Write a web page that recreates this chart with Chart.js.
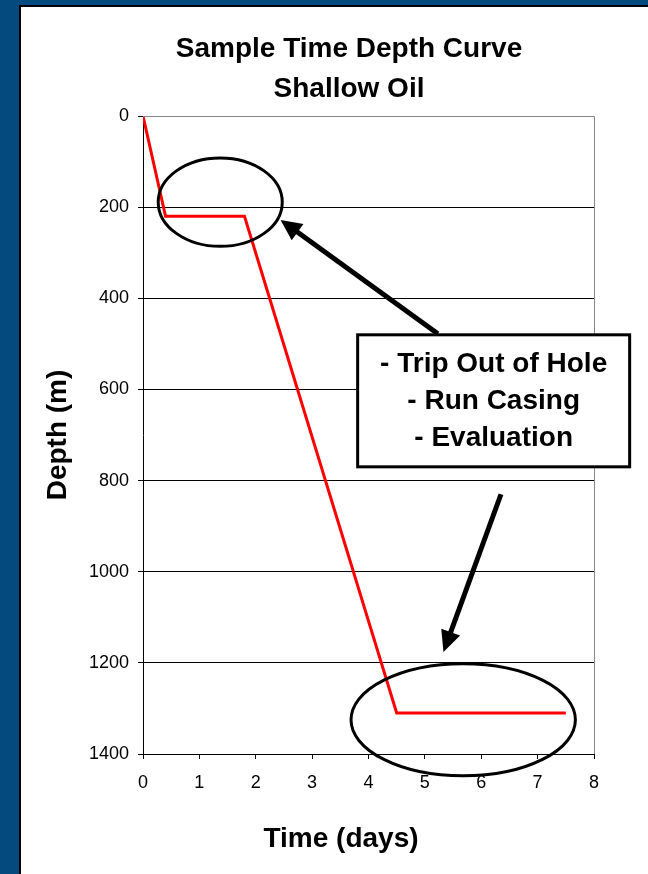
<!DOCTYPE html>
<html>
<head>
<meta charset="utf-8">
<script src="https://cdn.jsdelivr.net/npm/chart.js@4"></script>
<style>
  html, body { margin: 0; padding: 0; width: 648px; height: 874px; overflow: hidden; background: #054a7e; }
  #frame { position: absolute; left: 19px; top: 5px; right: 0; bottom: 0;
           border-left: 2px solid #000; border-top: 2px solid #000; background: #fff; }
  #chart { position: absolute; left: 0; top: 0; }
</style>
</head>
<body>
<div id="frame"></div>
<canvas id="chart" width="648" height="874"></canvas>
<script>
// Time-depth curve of a shallow oil well
const timeDays = [0, 0.4, 1.8, 4.5, 7.5];
const depthM   = [0, 220, 220, 1310, 1310];

const xTickValues = [0, 1, 2, 3, 4, 5, 6, 7, 8];
const yTickValues = [0, 200, 400, 600, 800, 1000, 1200, 1400];

const titleLines = ['Sample Time Depth Curve', 'Shallow Oil'];
const xAxisTitle = 'Time (days)';
const yAxisTitle = 'Depth (m)';
const noteLines  = ['- Trip Out of Hole', '- Run Casing', '- Evaluation'];

// Callout geometry, anchored in data units (days, metres)
const callout = {
  rings: [
    { x: 1.37, y: 189,  rx: 1.10, ry: 97 },
    { x: 5.68, y: 1325, rx: 1.99, ry: 123 }
  ],
  arrows: [
    { from: [5.23, 478], to: [2.44, 228] },
    { from: [6.35, 830], to: [5.33, 1176] }
  ],
  box: { x: 6.22, y: 625, w: 272, h: 132, lineGap: 37 }
};

// Heading and axis-title placement on the canvas
const headings = { titleX: 349, titleY: 49, titleGap: 40, xTitleX: 341, xTitleY: 839 };

const FONT = "'Liberation Sans', Arial, Helvetica, sans-serif";
const BOLD = 'bold 28px ' + FONT;

const calloutPlugin = {
  id: 'callouts',
  afterDraw(chart) {
    const { ctx, chartArea, scales: { x, y } } = chart;
    ctx.save();

    // plot frame: top and right edges in grey
    ctx.strokeStyle = '#868686';
    ctx.lineWidth = 1;
    ctx.beginPath();
    ctx.moveTo(chartArea.left, chartArea.top + 0.5);
    ctx.lineTo(chartArea.right + 0.5, chartArea.top + 0.5);
    ctx.lineTo(chartArea.right + 0.5, chartArea.bottom);
    ctx.stroke();

    // chart heading and x-axis title
    ctx.fillStyle = '#000';
    ctx.font = BOLD;
    ctx.textAlign = 'center';
    ctx.textBaseline = 'middle';
    titleLines.forEach((t, i) => ctx.fillText(t, headings.titleX, headings.titleY + i * headings.titleGap));
    ctx.fillText(xAxisTitle, headings.xTitleX, headings.xTitleY);

    // rings around the flat sections
    ctx.strokeStyle = '#000';
    ctx.lineWidth = 3;
    callout.rings.forEach(r => {
      const cx = x.getPixelForValue(r.x);
      const cy = y.getPixelForValue(r.y);
      const rx = x.getPixelForValue(r.x + r.rx) - cx;
      const ry = Math.abs(y.getPixelForValue(r.y + r.ry) - cy);
      ctx.beginPath();
      ctx.ellipse(cx, cy, rx, ry, 0, 0, Math.PI * 2);
      ctx.stroke();
    });

    // arrows
    ctx.fillStyle = '#000';
    callout.arrows.forEach(a => {
      const x0 = x.getPixelForValue(a.from[0]), y0 = y.getPixelForValue(a.from[1]);
      const x1 = x.getPixelForValue(a.to[0]),   y1 = y.getPixelForValue(a.to[1]);
      const ang = Math.atan2(y1 - y0, x1 - x0);
      const headLen = 21, headHalf = 10;
      const bx = x1 - headLen * Math.cos(ang), by = y1 - headLen * Math.sin(ang);
      ctx.lineWidth = 5;
      ctx.lineCap = 'butt';
      ctx.beginPath();
      ctx.moveTo(x0, y0);
      ctx.lineTo(bx + 2 * Math.cos(ang), by + 2 * Math.sin(ang));
      ctx.stroke();
      ctx.beginPath();
      ctx.moveTo(x1, y1);
      ctx.lineTo(bx + headHalf * Math.sin(ang), by - headHalf * Math.cos(ang));
      ctx.lineTo(bx - headHalf * Math.sin(ang), by + headHalf * Math.cos(ang));
      ctx.closePath();
      ctx.fill();
    });

    // text box
    const b = callout.box;
    const bcx = x.getPixelForValue(b.x), bcy = y.getPixelForValue(b.y);
    ctx.fillStyle = '#fff';
    ctx.fillRect(bcx - b.w / 2, bcy - b.h / 2, b.w, b.h);
    ctx.lineWidth = 3;
    ctx.strokeStyle = '#000';
    ctx.strokeRect(bcx - b.w / 2, bcy - b.h / 2, b.w, b.h);
    ctx.fillStyle = '#000';
    ctx.font = BOLD;
    noteLines.forEach((t, i) => {
      ctx.fillText(t, bcx, bcy + (i - (noteLines.length - 1) / 2) * b.lineGap);
    });

    ctx.restore();
  }
};

new Chart(document.getElementById('chart'), {
  type: 'line',
  data: {
    datasets: [{
      data: timeDays.map((t, i) => ({ x: t, y: depthM[i] })),
      borderColor: '#ff0000',
      borderWidth: 3,
      pointRadius: 0,
      tension: 0,
      fill: false
    }]
  },
  options: {
    responsive: false,
    devicePixelRatio: 1,
    animation: false,
    layout: { padding: { left: 21, top: 116, right: 54, bottom: 0 } },
    plugins: {
      legend: { display: false },
      tooltip: { enabled: false },
      title: { display: false }
    },
    scales: {
      x: {
        type: 'linear',
        min: 0, max: 8,
        afterBuildTicks: s => { s.ticks = xTickValues.map(v => ({ value: v })); },
        afterFit: s => { s.height = 120; },
        grid: { drawOnChartArea: false, drawTicks: true, tickLength: 5, tickColor: '#000', lineWidth: 1 },
        border: { display: true, color: '#000', width: 1 },
        ticks: { color: '#000', font: { family: FONT, size: 18 }, padding: 13, maxRotation: 0,
                 callback: v => String(v) },
        title: { display: false }
      },
      y: {
        type: 'linear',
        reverse: true,
        min: 0, max: 1400,
        afterBuildTicks: s => { s.ticks = yTickValues.map(v => ({ value: v })); },
        afterFit: s => { s.width = 122; },
        grid: {
          drawTicks: true, tickLength: 5, tickColor: '#000', lineWidth: 1,
          color: ctx => (ctx.tick && ctx.tick.value === 0) ? '#868686' : '#000'
        },
        border: { display: true, color: '#000', width: 1 },
        ticks: { color: '#000', font: { family: FONT, size: 18 }, padding: 9,
                 callback: v => String(v) },
        title: {
          display: true, text: yAxisTitle, color: '#000',
          font: { family: FONT, size: 28, weight: 'bold', lineHeight: 1.2 },
          padding: { top: 20, bottom: 0 }
        }
      }
    }
  },
  plugins: [calloutPlugin]
});
</script>
</body>
</html>
